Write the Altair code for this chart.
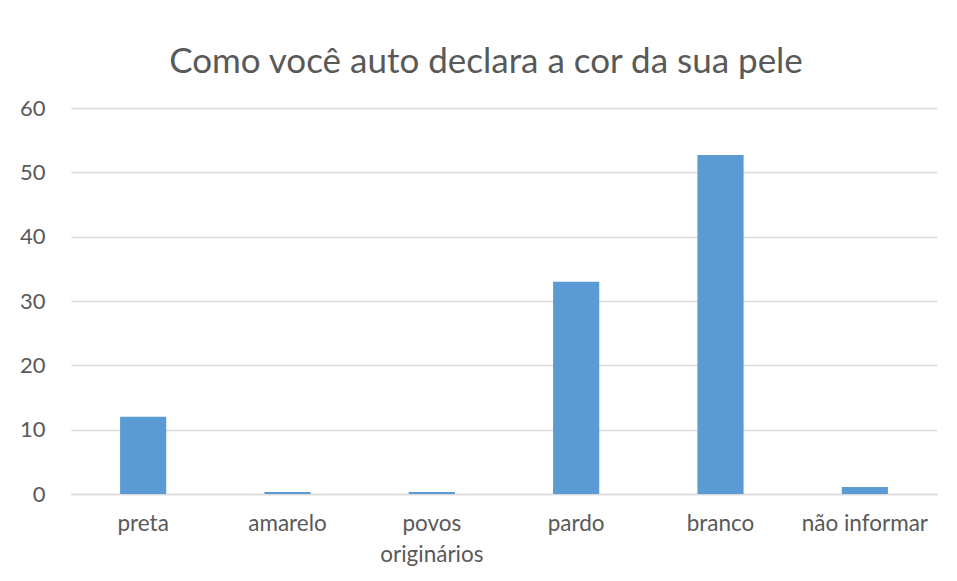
import altair as alt
import pandas as pd

categories = ["preta", "amarelo", "povos\noriginários", "pardo", "branco", "não informar"]
values = [12.0, 0.3, 0.3, 33.0, 52.7, 1.1]

df = pd.DataFrame({"cat": categories, "val": values})

FONT = "Lato"
GREY = "#595959"

chart = (
    alt.Chart(df)
    .mark_bar(color="#5b9bd5")
    .encode(
        x=alt.X(
            "cat:N",
            sort=categories,
            title=None,
            scale=alt.Scale(paddingInner=0.68, paddingOuter=0.34),
            axis=alt.Axis(
                labelAngle=0,
                labelExpr="split(datum.label, '\\n')",
                labelFont=FONT,
                labelFontSize=22.5,
                labelColor=GREY,
                labelPadding=18,
                ticks=False,
                domainColor="#d9d9d9",
                domainWidth=1.3,
                labelLineHeight=31,
            ),
        ),
        y=alt.Y(
            "val:Q",
            title=None,
            scale=alt.Scale(domain=[0, 60], nice=False),
            axis=alt.Axis(
                values=[0, 10, 20, 30, 40, 50, 60],
                labelFont=FONT,
                labelFontSize=22,
                labelColor=GREY,
                labelPadding=26,
                ticks=False,
                domain=False,
                gridColor="#d9d9d9",
                gridWidth=1.3,
            ),
        ),
    )
    .properties(
        width=866,
        height=386,
        autosize=alt.AutoSizeParams(type="none"),
        padding={"left": 63, "top": 100, "right": 12, "bottom": 86},
        title=alt.TitleParams(
            "Como você auto declara a cor da sua pele",
            font=FONT,
            fontSize=35,
            fontWeight="normal",
            color=GREY,
            anchor="middle",
            frame="group",
            dx=-18,
            offset=17,
        ),
    )
    .configure_view(stroke=None)
)

chart.save("out.html", embed_options={"renderer": "svg", "actions": False})
